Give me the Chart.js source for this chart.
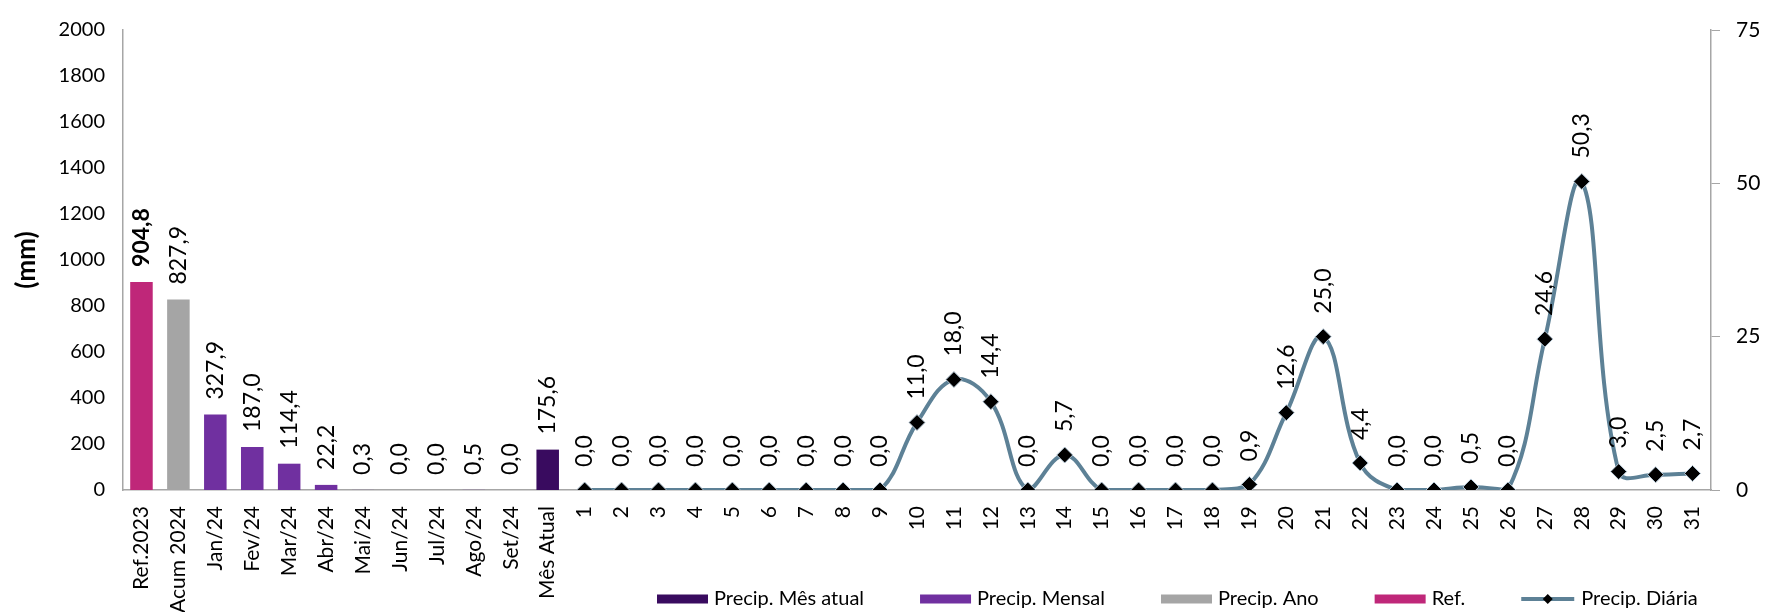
<!DOCTYPE html>
<html>
<head>
<meta charset="utf-8">
<script src="https://cdn.jsdelivr.net/npm/chart.js@4"></script>
<style>
  html, body { margin: 0; padding: 0; background: #fff; }
  #wrap { width: 1766px; height: 612px; position: relative; }
</style>
</head>
<body>
<div id="wrap"><canvas id="chart"></canvas></div>
<script>
// categories on the x axis
const summaryLabels = ['Ref.2023', 'Acum 2024', 'Jan/24', 'Fev/24', 'Mar/24', 'Abr/24', 'Mai/24', 'Jun/24', 'Jul/24', 'Ago/24', 'Set/24', 'Mês Atual'];
const dayLabels = ['1', '2', '3', '4', '5', '6', '7', '8', '9', '10', '11', '12', '13', '14', '15', '16', '17', '18', '19', '20', '21', '22', '23', '24', '25', '26', '27', '28', '29', '30', '31'];

// bar values (mm, left axis)
const refValue = 904.8;
const yearValue = 827.9;
const monthlyValues = [327.9, 187.0, 114.4, 22.2, 0.3, 0.0, 0.0, 0.5, 0.0];
const currentMonthValue = 175.6;

// daily rain (mm, right axis)
const dailyValues = [0.0, 0.0, 0.0, 0.0, 0.0, 0.0, 0.0, 0.0, 0.0, 11.0, 18.0, 14.4, 0.0, 5.7, 0.0, 0.0, 0.0, 0.0, 0.9, 12.6, 25.0, 4.4, 0.0, 0.0, 0.5, 0.0, 24.6, 50.3, 3.0, 2.5, 2.7];

const leftTicks = { min: 0, max: 2000, step: 200 };
const rightTicks = { min: 0, max: 75, step: 25 };

const labels = summaryLabels.concat(dayLabels);
const n = labels.length;
const blank = () => new Array(n).fill(null);

const refData = blank(); refData[0] = refValue;
const yearData = blank(); yearData[1] = yearValue;
const monthlyData = blank(); monthlyValues.forEach((v, i) => monthlyData[2 + i] = v);
const currentData = blank(); currentData[11] = currentMonthValue;
const dailyData = blank(); dailyValues.forEach((v, i) => dailyData[summaryLabels.length + i] = v);

const FONT = 'Lato, "Open Sans", sans-serif';
const fmt = v => v.toFixed(1).replace('.', ',');

// rotated value labels above bars / points
const valueLabels = {
  id: 'valueLabels',
  afterDatasetsDraw(chart) {
    const ctx = chart.ctx;
    chart.data.datasets.forEach((ds, di) => {
      const meta = chart.getDatasetMeta(di);
      meta.data.forEach((el, i) => {
        const v = ds.data[i];
        if (v === null || v === undefined) return;
        const gap = ds.type === 'line' ? 23 : 15;
        ctx.save();
        ctx.translate(el.x, el.y - gap);
        ctx.rotate(-Math.PI / 2);
        ctx.font = (ds.boldLabel ? 'bold ' : '') + '23px ' + FONT;
        ctx.fillStyle = '#000';
        ctx.textAlign = 'left';
        ctx.textBaseline = 'middle';
        ctx.fillText(fmt(v), 0, 0);
        ctx.restore();
      });
    });
  }
};

// legend drawn below the day labels
const bottomLegend = {
  id: 'bottomLegend',
  afterDraw(chart) {
    const ctx = chart.ctx;
    const y = 599;
    let x = 657;
    ctx.save();
    ctx.font = '20px ' + FONT;
    ctx.textBaseline = 'middle';
    ctx.textAlign = 'left';
    chart.data.datasets.forEach(ds => {
      if (ds.type === 'line') {
        ctx.strokeStyle = ds.borderColor;
        ctx.lineWidth = 4;
        ctx.beginPath();
        ctx.moveTo(x, y);
        ctx.lineTo(x + 53, y);
        ctx.stroke();
        ctx.fillStyle = '#000';
        ctx.beginPath();
        ctx.moveTo(x + 26.5, y - 5);
        ctx.lineTo(x + 31.5, y);
        ctx.lineTo(x + 26.5, y + 5);
        ctx.lineTo(x + 21.5, y);
        ctx.closePath();
        ctx.fill();
        x += 60;
      } else {
        ctx.fillStyle = ds.backgroundColor;
        ctx.fillRect(x, y - 4.5, 51, 9);
        x += 57;
      }
      ctx.fillStyle = '#000';
      ctx.fillText(ds.label, x, y);
      x += ctx.measureText(ds.label).width + 56;
    });
    ctx.restore();
  }
};

const barBase = { type: 'bar', yAxisID: 'y', grouped: false, categoryPercentage: 1, barPercentage: 0.61, borderWidth: 0 };

new Chart(document.getElementById('chart').getContext('2d'), {
  data: {
    labels: labels,
    datasets: [
      Object.assign({}, barBase, { label: 'Precip. Mês atual', data: currentData, backgroundColor: '#390B5F' }),
      Object.assign({}, barBase, { label: 'Precip. Mensal', data: monthlyData, backgroundColor: '#7030A0' }),
      Object.assign({}, barBase, { label: 'Precip. Ano', data: yearData, backgroundColor: '#A5A5A5' }),
      Object.assign({}, barBase, { label: 'Ref.', data: refData, backgroundColor: '#BF2779', boldLabel: true }),
      {
        type: 'line',
        label: 'Precip. Diária',
        data: dailyData,
        yAxisID: 'y1',
        borderColor: '#5D8196',
        borderWidth: 4,
        tension: 0.4,
        pointStyle: 'rectRot',
        pointRadius: 8,
        pointBackgroundColor: '#000',
        pointBorderColor: '#B8CAD8',
        pointBorderWidth: 1,
        order: -1
      }
    ]
  },
  options: {
    responsive: true,
    maintainAspectRatio: false,
    animation: false,
    layout: { padding: { top: 21, left: 0, right: 0, bottom: 0 } },
    plugins: {
      legend: { display: false },
      tooltip: { enabled: false }
    },
    scales: {
      x: {
        grid: { display: false, drawTicks: false },
        border: { color: '#A6A6A6', width: 1.5 },
        ticks: { autoSkip: false, minRotation: 90, maxRotation: 90, padding: 16, color: '#000', font: { family: FONT, size: 21 } },
        afterFit: s => { s.height = 122; }
      },
      y: {
        position: 'left',
        min: leftTicks.min,
        max: leftTicks.max,
        grid: { display: false, drawTicks: false },
        border: { color: '#A6A6A6', width: 1.5 },
        ticks: { stepSize: leftTicks.step, padding: 18, color: '#000', font: { family: FONT, size: 20 }, callback: v => String(v) },
        title: { display: true, text: '(mm)', color: '#000', font: { family: FONT, size: 26, weight: 'bold' }, padding: { top: 11, bottom: 0 } },
        afterFit: s => { s.width = 123; }
      },
      y1: {
        position: 'right',
        min: rightTicks.min,
        max: rightTicks.max,
        grid: { drawOnChartArea: false, tickLength: 9, color: '#A6A6A6' },
        border: { color: '#A6A6A6', width: 1.5 },
        ticks: { stepSize: rightTicks.step, padding: 16, color: '#000', font: { family: FONT, size: 21 }, callback: v => String(v) },
        afterFit: s => { s.width = 55; }
      }
    }
  },
  plugins: [valueLabels, bottomLegend]
});
</script>
</body>
</html>
